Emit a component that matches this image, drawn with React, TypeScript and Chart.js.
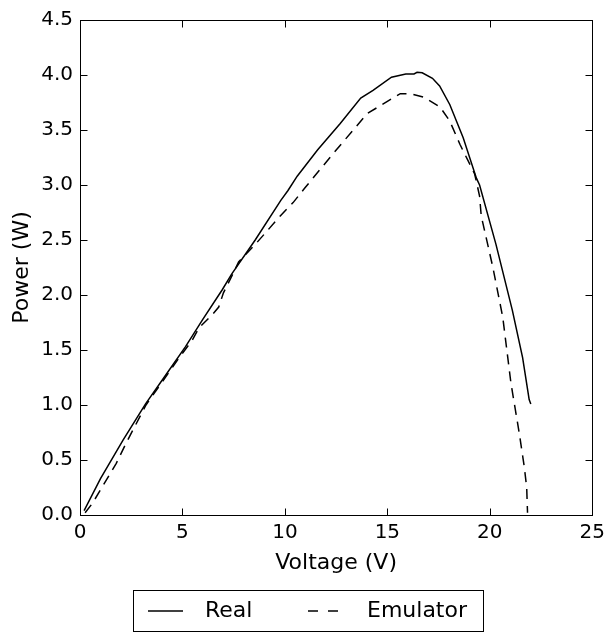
import { useEffect, useRef } from 'react';
import { Chart, registerables } from 'chart.js';

Chart.register(...registerables);

const seriesLabels = ['Real', 'Emulator'];

const realVoltage = [0.2, 1.0, 2.1, 3.2, 4.1, 5.15, 6.0, 6.95, 7.4, 8.55, 9.8, 10.15, 10.6, 11.6, 12.7, 13.7, 14.3, 15.2, 15.9, 16.3, 16.45, 16.7, 17.2, 17.55, 18.05, 18.7, 19.35, 19.5, 20.3, 21.1, 21.6, 21.92, 22.0];
const realPower = [0.04, 0.33, 0.68, 1.01, 1.25, 1.53, 1.78, 2.05, 2.19, 2.5, 2.86, 2.95, 3.08, 3.32, 3.56, 3.79, 3.86, 3.98, 4.01, 4.01, 4.025, 4.02, 3.97, 3.9, 3.73, 3.43, 3.06, 3.0, 2.46, 1.86, 1.43, 1.05, 1.01];

const emuVoltage = [0.25, 0.62, 1.77, 2.24, 2.66, 3.22, 4.84, 5.48, 5.8, 6.45, 6.77, 7.0, 7.43, 7.74, 8.6, 9.83, 10.4, 10.96, 12.33, 14.02, 15.0, 15.63, 16.12, 16.76, 17.57, 18.05, 18.54, 19.26, 19.5, 19.58, 20.15, 20.63, 21.03, 21.44, 21.68, 21.8, 21.84];
const emuPower = [0.02, 0.11, 0.47, 0.65, 0.8, 1.0, 1.43, 1.59, 1.7, 1.82, 1.89, 2.02, 2.18, 2.3, 2.47, 2.73, 2.84, 2.97, 3.28, 3.65, 3.76, 3.83, 3.83, 3.8, 3.71, 3.58, 3.37, 3.1, 2.9, 2.72, 2.25, 1.8, 1.2, 0.74, 0.44, 0.25, 0.02];

const xTickValues = [0, 5, 10, 15, 20, 25];
const yTickValues = [0, 0.5, 1, 1.5, 2, 2.5, 3, 3.5, 4, 4.5];

const FONT = "'DejaVu Sans', sans-serif";

const framePlugin = {
  id: 'frameTicksLegend',
  afterDatasetsDraw(chart: any) {
    const { ctx, chartArea } = chart;
    const l = Math.round(chartArea.left) + 0.5;
    const r = Math.round(chartArea.right) + 0.5;
    const t = Math.round(chartArea.top) + 0.5;
    const b = Math.round(chartArea.bottom) + 0.5;
    ctx.save();
    ctx.strokeStyle = '#000';
    ctx.lineWidth = 1;
    ctx.setLineDash([]);
    ctx.strokeRect(l, t, r - l, b - t);
    const tl = 7;
    const xs = chart.scales.x;
    const ys = chart.scales.y;
    ctx.beginPath();
    xs.ticks.forEach((tk: any) => {
      const px = Math.round(xs.getPixelForValue(tk.value)) + 0.5;
      ctx.moveTo(px, b);
      ctx.lineTo(px, b - tl);
      ctx.moveTo(px, t);
      ctx.lineTo(px, t + tl);
    });
    ys.ticks.forEach((tk: any) => {
      const py = Math.round(ys.getPixelForValue(tk.value)) + 0.5;
      ctx.moveTo(l, py);
      ctx.lineTo(l + tl, py);
      ctx.moveTo(r, py);
      ctx.lineTo(r - tl, py);
    });
    ctx.stroke();
    ctx.restore();
  },
  afterDraw(chart: any) {
    const { ctx } = chart;
    const ds = chart.data.datasets;
    ctx.save();
    ctx.strokeStyle = '#000';
    ctx.lineWidth = 1;
    ctx.setLineDash([]);
    ctx.strokeRect(133.5, 590.5, 350, 41);
    const cy = 611;
    const handles = [
      { x0: 148, x1: 183, tx: 205 },
      { x0: 308, x1: 338, tx: 367 },
    ];
    ctx.font = `22px ${FONT}`;
    ctx.textBaseline = 'middle';
    ctx.textAlign = 'left';
    ctx.fillStyle = '#000';
    ds.forEach((d: any, i: number) => {
      const h = handles[i];
      ctx.beginPath();
      ctx.lineWidth = 1.5;
      ctx.setLineDash(d.borderDash && d.borderDash.length ? [10, 10] : []);
      ctx.moveTo(h.x0, cy);
      ctx.lineTo(h.x1, cy);
      ctx.stroke();
      ctx.setLineDash([]);
      ctx.fillText(d.label, h.tx, cy);
    });
    ctx.restore();
  },
};

export default function App() {
  const ref = useRef<HTMLCanvasElement | null>(null);
  useEffect(() => {
    document.body.style.margin = '0';
    const canvas = ref.current;
    if (!canvas) return;
    const chart = new Chart(canvas, {
      type: 'line',
      data: {
        datasets: [
          {
            label: seriesLabels[0],
            data: realVoltage.map((v, i) => ({ x: v, y: realPower[i] })),
            borderColor: '#000',
            borderWidth: 1.5,
            pointRadius: 0,
            tension: 0,
            fill: false,
          },
          {
            label: seriesLabels[1],
            data: emuVoltage.map((v, i) => ({ x: v, y: emuPower[i] })),
            borderColor: '#000',
            borderWidth: 1.5,
            borderDash: [10, 7],
            pointRadius: 0,
            tension: 0,
            fill: false,
          },
        ],
      },
      options: {
        responsive: false,
        animation: false,
        devicePixelRatio: 1,
        layout: { padding: { left: 0, right: 15, top: 20, bottom: 0 } },
        plugins: {
          legend: { display: false },
          tooltip: { enabled: false },
        },
        scales: {
          x: {
            type: 'linear',
            min: 0,
            max: 25,
            afterBuildTicks: (s: any) => {
              s.ticks = xTickValues.map((v) => ({ value: v }));
            },
            afterFit: (s: any) => {
              s.height = 119;
            },
            ticks: {
              color: '#000',
              font: { family: FONT, size: 20 },
              padding: 6,
              maxRotation: 0,
              callback: (v: any) => String(v),
            },
            grid: { display: false, drawTicks: false, tickLength: 0 },
            border: { display: false },
            title: {
              display: true,
              text: 'Voltage (V)',
              color: '#000',
              font: { family: FONT, size: 22 },
              padding: { top: 0, bottom: 58 },
            },
          },
          y: {
            type: 'linear',
            min: 0,
            max: 4.5,
            afterBuildTicks: (s: any) => {
              s.ticks = yTickValues.map((v) => ({ value: v }));
            },
            afterFit: (s: any) => {
              s.width = 80;
            },
            ticks: {
              color: '#000',
              font: { family: FONT, size: 20 },
              padding: 7,
              callback: (v: any) => Number(v).toFixed(1),
            },
            grid: { display: false, drawTicks: false, tickLength: 0 },
            border: { display: false },
            title: {
              display: true,
              text: 'Power (W)',
              color: '#000',
              font: { family: FONT, size: 22 },
              padding: { top: 9, bottom: 0 },
            },
          },
        },
      },
      plugins: [framePlugin],
    } as any);
    return () => chart.destroy();
  }, []);
  return (
    <canvas
      ref={ref}
      width={611}
      height={634}
      style={{ display: 'block', width: 611, height: 634 }}
    />
  );
}
